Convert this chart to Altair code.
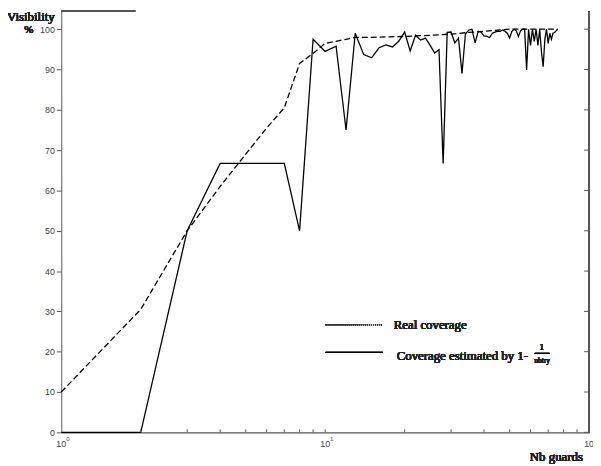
import altair as alt
import pandas as pd

# ---------------- data ----------------
guards = list(range(1, 77))
estimated = [
    0, 0, 50, 66.7, 66.7, 66.7, 66.7, 50, 97.5, 94.5,
    95.8, 75, 99, 93.7, 92.9, 95.4, 96.1, 95.6, 97, 99.3,
    94.6, 98.5, 97.3, 97.8, 96, 94.1, 94.9, 66.7, 99.2, 99.3,
    96.6, 97.8, 89, 98.8, 99.8, 100, 96.6, 99.5, 99.3, 98.3,
    98.3, 97.9, 99, 99.3, 99.5, 99.5, 99.8, 99.5, 99, 97.8,
    99.5, 100, 99.6, 98.2, 99.6, 100, 100, 89.9, 100, 96,
    100, 97, 100, 96, 100, 94.4, 90.7, 97.5, 100, 96.5,
    99, 97.5, 99, 99.2, 99.6, 100,
]
real_x = [1, 2, 3, 4, 5, 6, 7, 8, 9, 10, 11, 12, 13, 15, 20, 25, 30, 35, 40, 45, 50, 60, 70, 76]
real_vals = [10, 30.5, 50, 61, 69, 75.5, 80.5, 91.5, 94, 96.5, 97, 97.5, 98, 98, 98.2,
             98.5, 98.8, 99.2, 99.5, 99.8, 100, 100, 100, 100]

y_ticks = [0, 10, 20, 30, 40, 50, 60, 70, 80, 90, 100]
x_minor = [2, 3, 4, 5, 6, 7, 8, 9, 10, 20, 30, 40, 50, 60, 70, 80, 90]
decades = [1, 10, 100]
decade_exp = ["0", "1", "2"]

W, H = 535, 427
SERIF = "Liberation Serif"
SANS = "Liberation Sans"
AXC = "#555555"

df_est = pd.DataFrame({"n": guards, "v": estimated})
df_real = pd.DataFrame({"n": real_x, "v": real_vals})
df_yt = pd.DataFrame({"v": y_ticks})
df_xm = pd.DataFrame({"n": x_minor})
df_dec = pd.DataFrame({"n": decades, "t": ["10"] * 3, "e": decade_exp})

xs = alt.Scale(type="log", domain=[1, 100], nice=False)
ys = alt.Scale(domain=[0, 104.5], nice=False, zero=False)
xaxis = alt.Axis(labels=False, ticks=False, domain=True, domainColor=AXC,
                 domainWidth=1.2, grid=False, title=None)
yaxis = alt.Axis(values=y_ticks, tickSize=5, tickColor=AXC, domainColor=AXC,
                 labelFont=SANS, labelFontSize=9, labelColor="#444444",
                 labelPadding=2, grid=False, title=None)

X = alt.X("n:Q", scale=xs, axis=xaxis)
Y = alt.Y("v:Q", scale=ys, axis=yaxis)

est_line = alt.Chart(df_est).mark_line(color="black", strokeWidth=1.3).encode(x=X, y=Y)
real_line = alt.Chart(df_real).mark_line(color="black", strokeWidth=1.3,
                                           strokeDash=[6, 3]).encode(x=X, y=Y)

# right axis: line + inward ticks
right_line = alt.Chart(df_yt).mark_rule(color=AXC, strokeWidth=1).encode(
    x=alt.value(W), y=alt.value(0), y2=alt.value(H))
right_ticks = alt.Chart(df_yt).mark_rule(color=AXC).encode(
    y=Y, x=alt.value(W - 5), x2=alt.value(W))
# partial top border
top_line = alt.Chart(df_yt).mark_rule(color=AXC).encode(
    x=alt.value(0), x2=alt.value(75), y=alt.value(0))
# bottom inward ticks
bottom_ticks = alt.Chart(df_xm).mark_rule(color=AXC).encode(
    x=X, y=alt.value(H - 3), y2=alt.value(H))
# decade labels
dec_txt = alt.Chart(df_dec).mark_text(font=SANS, fontSize=9, color="#444444",
                                      align="center", baseline="middle").encode(
    x=X, y=alt.value(H + 12), text="t:N")
dec_exp = alt.Chart(df_dec).mark_text(font=SANS, fontSize=6, color="#444444",
                                      align="left", baseline="middle", dx=5).encode(
    x=X, y=alt.value(H + 7), text="e:N")

def label(txt, x, y, size=13, align="left", font=SERIF, color="#222222"):
    return alt.Chart(df_yt).mark_text(text=txt, font=font, fontSize=size, align=align,
                                      fontWeight="normal", baseline="middle",
                                      color=color).encode(
        x=alt.value(x), y=alt.value(y))

title_vis = label("Visibility", -55, 6, 13)
title_pct = label("%", -33, 19, 11, align="center")
title_x = label("Nb guards", 475, 452, 13)

# legend
leg1 = alt.Chart(df_yt).mark_rule(color="#333333", strokeDash=[1, 1], strokeWidth=1).encode(
    x=alt.value(268), x2=alt.value(326), y=alt.value(318))
leg1t = label("Real coverage", 337, 318, 13)
leg2 = alt.Chart(df_yt).mark_rule(color="black", strokeWidth=1).encode(
    x=alt.value(268), x2=alt.value(326), y=alt.value(346))
leg2t = label("Coverage estimated by 1-", 340, 350, 13)
frac_num = label("1", 487, 341, 9, align="center")
frac_bar = alt.Chart(df_yt).mark_rule(color="black", strokeWidth=0.8).encode(
    x=alt.value(480), x2=alt.value(495), y=alt.value(347))
frac_den = label("nbtry", 487.5, 355, 7.5, align="center")

chart = alt.layer(
    est_line, real_line, right_line, right_ticks, top_line, bottom_ticks,
    dec_txt, dec_exp, title_vis, title_pct, title_x,
    leg1, leg1t, leg2, leg2t, frac_num, frac_bar, frac_den,
).properties(
    width=W, height=H,
    padding={"left": 54, "top": 0, "right": 4, "bottom": 30},
    autosize=alt.AutoSizeParams(type="none"),
    background="white",
).configure_view(stroke=None)

chart.save("out.html", embed_options={"renderer": "svg", "actions": False})
